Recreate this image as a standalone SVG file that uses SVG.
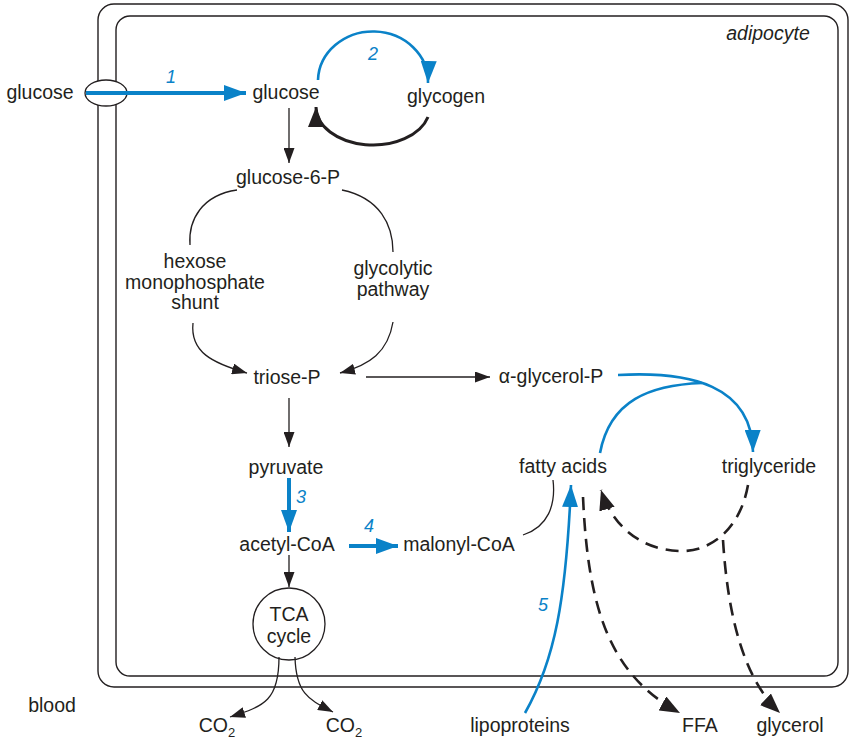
<svg xmlns="http://www.w3.org/2000/svg" width="850" height="739" viewBox="0 0 850 739">
<style>
text{font-family:"Liberation Sans",Arial,sans-serif;font-size:19.5px;fill:#231f20;text-anchor:middle}
.num{fill:#0a82c8;font-style:italic;font-size:18px}
.it{font-style:italic}
.k{fill:none;stroke:#231f20;stroke-width:1.3}
.kt{fill:none;stroke:#231f20;stroke-width:3}
.kd{fill:none;stroke:#231f20;stroke-width:2.6;stroke-dasharray:13 8}
.b{fill:none;stroke:#0a82c8;stroke-width:2.6}
.bt{fill:none;stroke:#0a82c8;stroke-width:4}
.mem{fill:none;stroke:#231f20;stroke-width:1.4}
</style>
<defs>
<marker id="ak" markerUnits="userSpaceOnUse" markerWidth="15" markerHeight="11" refX="15" refY="5.5" orient="auto"><path d="M0,0 L15,5.5 L0,11 z" fill="#231f20"/></marker>
<marker id="akl" markerUnits="userSpaceOnUse" markerWidth="20" markerHeight="16" refX="20" refY="8" orient="auto"><path d="M0,0 L20,8 L0,16 z" fill="#231f20"/></marker>
<marker id="ab" markerUnits="userSpaceOnUse" markerWidth="22" markerHeight="16" refX="22" refY="8" orient="auto"><path d="M0,0 L22,8 L0,16 z" fill="#0a82c8"/></marker>
</defs>

<g id="cell">
<rect class="mem" x="98" y="4" width="750" height="683" rx="16"/>
<rect class="mem" x="116" y="16" width="722" height="660" rx="14"/>
<ellipse cx="106" cy="93" rx="21" ry="13" fill="#fff" stroke="#231f20" stroke-width="1.3"/>
<text class="it" x="768" y="40" font-size="19">adipocyte</text>
</g>

<g id="connectors">
<path class="bt" d="M86,93 L246,93" marker-end="url(#ab)"/>
<path class="b" d="M318,80 A55,50 0 0 1 428,83" stroke-width="3" marker-end="url(#ab)"/>
<path class="kt" d="M428,117 A57,38 0 0 1 316,107" marker-end="url(#akl)"/>
<path class="k" d="M289,108 L289,163" marker-end="url(#ak)"/>
<path class="k" d="M237,190 C202,195 188,220 190,245"/>
<path class="k" d="M342,190 C380,198 393,225 393,252"/>
<path class="k" d="M193,323 C190,352 212,363 247,373" marker-end="url(#ak)"/>
<path class="k" d="M393,322 C388,352 370,365 340,373" marker-end="url(#ak)"/>
<path class="k" d="M289,398 L289,447" marker-end="url(#ak)"/>
<path class="k" d="M366,377 L490,377" marker-end="url(#ak)"/>
<path class="bt" d="M289,478 L289,532" marker-end="url(#ab)"/>
<path class="bt" d="M349,546 L398,546" marker-end="url(#ab)"/>
<path class="k" d="M289,555 L289,587" marker-end="url(#ak)"/>
<path class="k" d="M279,657 C279,700 265,706 230,717" marker-end="url(#ak)"/>
<path class="k" d="M295,657 C296,695 310,700 333,712" marker-end="url(#ak)"/>
<path class="k" d="M523,535 C548,527 556,505 553,480"/>
<path class="b" d="M618,375 C690,371 752,385 753,452" marker-end="url(#ab)"/>
<path class="b" d="M600,453 C610,400 650,385 702,383"/>
<path class="b" d="M525,713 C555,660 566,600 571,485" marker-end="url(#ab)"/>
<path class="kd" d="M583,497 C588,610 610,675 680,713" marker-end="url(#akl)"/>
<path class="kd" d="M723,540 C728,620 745,680 780,713" marker-end="url(#akl)"/>
<path class="kd" d="M748,485 C740,530 710,552 680,551 C640,550 612,525 601,490" marker-end="url(#akl)"/>
</g>

<g id="labels">
<text class="num" x="171" y="83">1</text>
<text class="num" x="373" y="60">2</text>
<text class="num" x="301" y="503">3</text>
<text class="num" x="369" y="532">4</text>
<text class="num" x="543" y="611">5</text>
</g>

<g id="glucose-out"><text x="40" y="99">glucose</text></g>
<g id="glucose"><text x="286" y="99">glucose</text></g>
<g id="glycogen"><text x="446" y="103">glycogen</text></g>
<g id="glucose-6-P"><text x="288" y="184">glucose-6-P</text></g>
<g id="hms"><text x="195" y="268">hexose</text><text x="195" y="289">monophosphate</text><text x="195" y="309">shunt</text></g>
<g id="glycolytic"><text x="393" y="275">glycolytic</text><text x="393" y="296">pathway</text></g>
<g id="triose-P"><text x="287" y="384">triose-P</text></g>
<g id="a-glycerol-P"><text x="551" y="383">α-glycerol-P</text></g>
<g id="fatty-acids"><text x="563" y="473">fatty acids</text></g>
<g id="triglyceride"><text x="769" y="473">triglyceride</text></g>
<g id="pyruvate"><text x="286" y="474">pyruvate</text></g>
<g id="acetyl-CoA"><text x="287" y="551">acetyl-CoA</text></g>
<g id="malonyl-CoA"><text x="459" y="551">malonyl-CoA</text></g>
<g id="TCA"><circle cx="289" cy="624" r="36" fill="none" stroke="#231f20" stroke-width="1.3"/><text x="289" y="621">TCA</text><text x="289" y="643">cycle</text></g>
<g id="blood"><text x="52" y="712">blood</text></g>
<g id="CO2-a"><text x="217" y="732">CO<tspan font-size="13" dy="5">2</tspan></text></g>
<g id="CO2-b"><text x="344" y="732">CO<tspan font-size="13" dy="5">2</tspan></text></g>
<g id="lipoproteins"><text x="520" y="732">lipoproteins</text></g>
<g id="FFA"><text x="700" y="732">FFA</text></g>
<g id="glycerol"><text x="790" y="732">glycerol</text></g>
</svg>
